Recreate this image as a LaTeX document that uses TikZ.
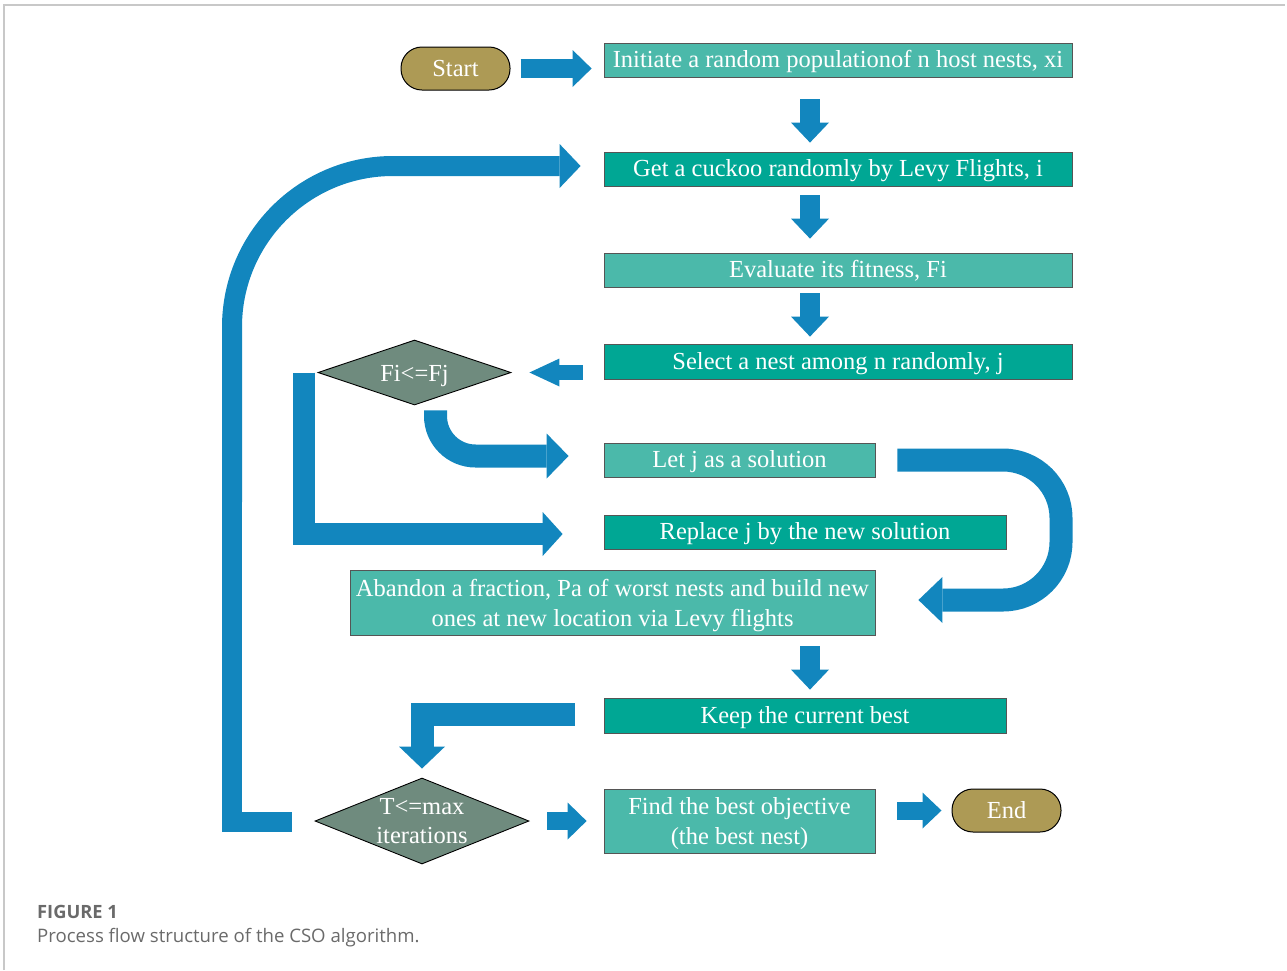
\documentclass[tikz,border=0pt]{standalone}
\usepackage{fontspec}
\setmainfont{Liberation Serif}
\newfontfamily\capfont{Open Sans}
\usetikzlibrary{arrows.meta,shapes.geometric}
\definecolor{arrowblue}{HTML}{1286BE}
\definecolor{tealdark}{HTML}{00A794}
\definecolor{teallight}{HTML}{4BB9AA}
\definecolor{olivegold}{HTML}{AD9A55}
\definecolor{diagray}{HTML}{6F8B7E}
\definecolor{boxline}{HTML}{555555}
\definecolor{frameline}{HTML}{C8C8C8}
\definecolor{captext}{HTML}{6A6A6A}
\begin{document}
\begin{tikzpicture}[x=1pt,y=-1pt,
  every node/.style={font=\fontsize{24.5}{29}\selectfont, text=white, inner sep=0pt, align=center},
  procdark/.style 2 args={rectangle, draw=boxline, line width=0.8pt, fill=tealdark, minimum width=#1, minimum height=#2, text height=18.5pt, text depth=3.5pt},
  proclight/.style 2 args={rectangle, draw=boxline, line width=0.8pt, fill=teallight, minimum width=#1, minimum height=#2, text height=18.5pt, text depth=3.5pt},
  proctwo/.style 2 args={rectangle, draw=boxline, line width=0.8pt, fill=teallight, minimum width=#1, minimum height=#2},
  twolines/.style={font=\fontsize{24.5}{30}\selectfont, yshift=-3pt},
  terminal/.style={rectangle, rounded corners=21pt, draw=black, line width=1pt, fill=olivegold, minimum width=109pt, minimum height=43pt},
  decision/.style 2 args={diamond, draw=black, line width=0.9pt, fill=diagray, minimum width=#1, minimum height=#2},
  flow/.style n args={3}{draw=arrowblue, line width=#1, line join=miter, -{Triangle[length=#2, width=#3, line width=0pt]}},
  flowbar/.style={draw=arrowblue, line width=#1, line join=miter},
  captionstyle/.style={anchor=base west, text=captext}
]
\useasboundingbox (0,0) rectangle (1287,970);
\draw[frameline, line width=1.5pt] (4,970) -- (4,5) -- (1285,5);

% nodes
\node[proclight={468pt}{34pt}] (init) at (838,60) {Initiate a random populationof n host nests, xi};
\node[procdark={468pt}{34pt}] (get) at (838,169) {Get a cuckoo randomly by Levy Flights, i};
\node[proclight={468pt}{34pt}] (eval) at (838,270) {Evaluate its fitness, Fi};
\node[procdark={468pt}{35pt}] (sel) at (838,361.5) {Select a nest among n randomly, j};
\node[proclight={271pt}{34pt}] (letj) at (739.5,460) {Let j as a solution};
\node[procdark={402pt}{34pt}] (repl) at (805,532) {Replace j by the new solution};
\node[proctwo={525pt}{65pt}, label={[twolines]center:Abandon a fraction, Pa of worst nests and build new\\ones at new location via Levy flights}] (aband) at (612.5,602.5) {};
\node[procdark={402pt}{35pt}] (keep) at (805,715.5) {Keep the current best};
\node[proctwo={271pt}{64pt}, label={[twolines]center:Find the best objective\\(the best nest)}] (find) at (739.5,821) {};
\node[terminal] (start) at (455.5,68.5) {Start};
\node[terminal] (end) at (1006.5,810.5) {End};
\node[decision={193pt}{65pt}, label={[yshift=-3pt]center:Fi<=Fj}] (d1) at (414.5,372.5) {};
\node[decision={214pt}{86pt}, label={[font=\fontsize{24.5}{29}\selectfont]center:T<=max\\iterations}] (d2) at (422,821) {};

% straight arrows
\coordinate (cx) at (810,0);
\draw[flow={19pt}{19pt}{37pt}, shorten <=10pt, shorten >=12pt] (start.east) -- (start.east -| init.west);
\draw[flow={20pt}{20pt}{38pt}, shorten <=22pt, shorten >=9pt] (init.south -| cx) -- (get.north -| cx);
\draw[flow={20pt}{20pt}{38pt}, shorten <=9pt, shorten >=14pt] (get.south -| cx) -- (eval.north -| cx);
\draw[flow={20pt}{20pt}{38pt}, shorten <=6pt, shorten >=7pt] (eval.south -| cx) -- (sel.north -| cx);
\draw[flow={20pt}{20pt}{38pt}, shorten <=11pt, shorten >=8pt] (aband.south -| cx) -- (keep.north -| cx);
\draw[flow={15pt}{30pt}{28pt}, shorten <=21pt, shorten >=18pt] (sel.west |- d1.east) -- (d1.east);
\draw[flow={18pt}{19pt}{37pt}, shorten <=18pt, shorten >=17pt] (d2.east) -- (d2.east -| find.west);
\draw[flow={18pt}{19pt}{36pt}, shorten <=22pt, shorten >=10pt] (find.east |- end.west) -- (end.west);

% bent arrows
\draw[flow={23pt}{22pt}{45pt}, rounded corners=40pt, shorten >=35pt] ([xshift=21pt,yshift=-5pt]d1.south) |- ([yshift=4pt]letj.west);
\draw[flow={22pt}{20pt}{44pt}, shorten >=41pt] ([xshift=-14pt]d1.west) |- ([yshift=-2pt]repl.west);
\coordinate (uA) at (1061,460);
\coordinate (uB) at (1061,600);
\draw[flow={23pt}{24pt}{46pt}, rounded corners=58pt, shorten >=43pt] ([xshift=22pt]letj.east) -- (uA) -- (uB) -- ([yshift=2.5pt]aband.east);
\draw[flow={23pt}{22pt}{46pt}, shorten >=9pt] ([xshift=-29pt,yshift=1.5pt]keep.west) -| (d2.north);

% loop back
\coordinate (loopmid) at (232,500);
\draw[flowbar=20pt] ([xshift=-23pt,yshift=-1pt]d2.west) -| (loopmid);
\draw[flow={20pt}{21pt}{44pt}, rounded corners=161pt, shorten >=23pt] ([yshift=-2pt]loopmid) |- ([yshift=3pt]get.west);

% caption
\node[captionstyle, font=\capfont\bfseries\fontsize{18.3}{21}\selectfont] (figlabel) at (37,918) {FIGURE 1};
\node[captionstyle, font=\capfont\fontsize{18.6}{21}\selectfont] (figcaption) at (37,942) {Process flow structure of the CSO algorithm.};
\end{tikzpicture}
\end{document}
